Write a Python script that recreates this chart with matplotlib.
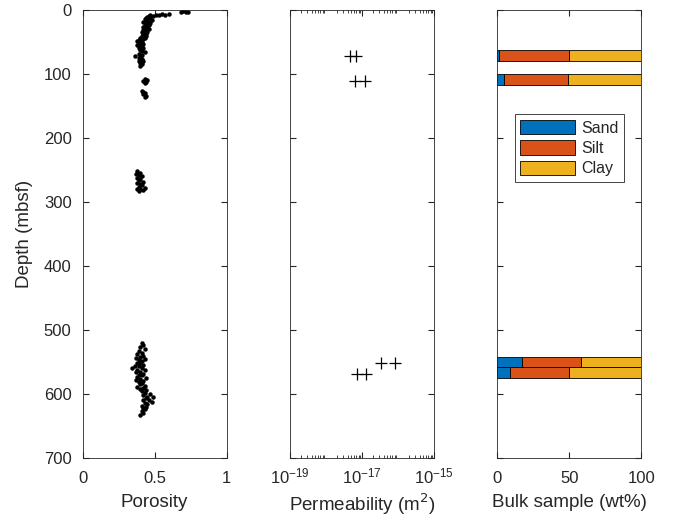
import matplotlib.pyplot as plt
from matplotlib.ticker import LogLocator, NullFormatter

plt.rcParams['font.family'] = ['Liberation Sans', 'DejaVu Sans']
plt.rcParams['font.size'] = 12

# porosity profile (depth in mbsf, porosity fraction)
por_depth = [2, 2.5, 3, 3.5, 6, 6.5, 7, 7, 8, 8, 9, 10, 11, 12, 13, 14, 15, 16, 17, 18,
             19, 20, 21, 22, 23, 24, 25, 26, 27, 28, 29, 30, 31, 32, 33, 34, 35, 36, 37, 38,
             39, 40, 41, 42, 43, 44, 45, 46, 47, 48, 49, 50, 51, 52, 53, 54, 55, 56, 57, 58,
             59, 60, 62, 64, 66, 68, 70, 72, 73, 75, 76, 78, 79, 80, 81, 83, 85, 87,
             108, 110, 111, 112, 114, 126, 128, 130, 132, 134, 136,
             252, 254, 256, 258, 260, 262, 264, 266, 268, 270, 272, 274, 276, 278, 279, 280, 282, 283,
             520, 523, 526, 530, 533, 536, 538, 540, 542, 544, 545, 547, 549, 551, 552, 554, 556, 557,
             559, 560, 562, 563, 565, 566, 568, 570, 571, 573, 575, 576, 578, 580, 581, 583, 585, 587,
             589, 590, 592, 594, 596, 598, 600, 602, 604, 605, 607, 609, 610, 612, 614, 616, 618, 620,
             622, 624, 627, 630, 633]
porosity = [0.70, 0.73, 0.72, 0.68, 0.60, 0.55, 0.57, 0.53, 0.51, 0.47, 0.49, 0.46, 0.45, 0.44, 0.47, 0.43, 0.45, 0.48, 0.44, 0.46,
            0.42, 0.47, 0.44, 0.45, 0.43, 0.46, 0.44, 0.42, 0.45, 0.43, 0.44, 0.46, 0.42, 0.44, 0.43, 0.45, 0.41, 0.43, 0.44, 0.42,
            0.43, 0.41, 0.44, 0.42, 0.40, 0.43, 0.41, 0.42, 0.39, 0.40, 0.38, 0.41, 0.39, 0.40, 0.42, 0.38, 0.40, 0.39, 0.41, 0.40,
            0.42, 0.39, 0.40, 0.41, 0.43, 0.39, 0.41, 0.36, 0.40, 0.39, 0.41, 0.40, 0.42, 0.39, 0.41, 0.40, 0.41, 0.40,
            0.43, 0.45, 0.42, 0.44, 0.43, 0.41, 0.42, 0.43, 0.42, 0.44, 0.43,
            0.38, 0.40, 0.37, 0.39, 0.41, 0.38, 0.40, 0.39, 0.42, 0.38, 0.40, 0.41, 0.39, 0.43, 0.38, 0.40, 0.42, 0.39,
            0.41, 0.42, 0.40, 0.43, 0.39, 0.41, 0.38, 0.42, 0.40, 0.37, 0.43, 0.39, 0.41, 0.38, 0.40, 0.42, 0.36, 0.39,
            0.34, 0.41, 0.38, 0.43, 0.40, 0.37, 0.42, 0.39, 0.41, 0.38, 0.44, 0.40, 0.37, 0.42, 0.39, 0.41, 0.40, 0.43,
            0.38, 0.42, 0.40, 0.44, 0.41, 0.43, 0.47, 0.42, 0.45, 0.49, 0.44, 0.46, 0.42, 0.48, 0.43, 0.45, 0.41, 0.44,
            0.42, 0.43, 0.41, 0.42, 0.40]

# permeability (m^2)
perm_depth = [72, 72, 111, 111, 552, 552, 568, 568]
perm = [4.6e-18, 6.8e-18, 6.5e-18, 1.2e-17, 3.3e-17, 8.1e-17, 7.1e-18, 1.26e-17]

# bulk grain size (wt%)
bulk_depth = [71, 109, 550, 566]
sand = [1.4, 4.6, 17, 9]
silt = [48.1, 44.2, 41.5, 40.5]
clay = [50.5, 51.2, 41.5, 50.5]

col_sand = '#0072BD'
col_silt = '#D95319'
col_clay = '#EDB120'
axcol = '#262626'
lab_fs = 13.5

fig = plt.figure(figsize=(6.74, 5.22), dpi=100)
W = 0.2136
B = 0.1226
H = 0.8582
ax1 = fig.add_axes([0.1227, B, W, H])
ax2 = fig.add_axes([0.4303, B, W, H])
ax3 = fig.add_axes([0.7378, B, W, H])

for ax in (ax1, ax2, ax3):
    ax.set_ylim(700, 0)
    ax.set_yticks(range(0, 701, 100))
    ax.tick_params(which='both', direction='in', top=True, right=True, colors=axcol,
                   labelcolor=axcol, labelsize=12)
    ax.tick_params(which='major', length=4.5)
    ax.tick_params(which='minor', length=2)
    ax.tick_params(axis='x', which='both', pad=9)
    ax.tick_params(axis='y', which='both', pad=8)
    for s in ax.spines.values():
        s.set_color(axcol)
        s.set_linewidth(0.6)

ax1.plot(porosity, por_depth, 'o', color='black', markersize=2.2)
ax1.set_xlim(0, 1)
ax1.set_xticks([0, 0.5, 1])
ax1.set_xticklabels(['0', '0.5', '1'])
ax1.set_xlabel('Porosity', color=axcol, fontsize=lab_fs, labelpad=6)
ax1.set_ylabel('Depth (mbsf)', color=axcol, fontsize=lab_fs, labelpad=8)

ax2.plot(perm, perm_depth, '+', color='black', markersize=8, markeredgewidth=0.9)
ax2.set_xscale('log')
ax2.set_xlim(1e-19, 1e-15)
ax2.set_xticks([1e-19, 1e-17, 1e-15])
ax2.xaxis.set_minor_locator(LogLocator(base=10, subs=range(2, 10), numticks=20))
ax2.xaxis.set_minor_formatter(NullFormatter())
ax2.tick_params(axis='x', which='both', pad=6)
ax2.set_yticklabels([])
ax2.set_xlabel('Permeability (m$^2$)', color=axcol, fontsize=lab_fs, labelpad=4)

h = 16.5
left2 = [a + b for a, b in zip(sand, silt)]
ax3.barh(bulk_depth, sand, height=h, color=col_sand, edgecolor='black', linewidth=0.6, label='Sand')
ax3.barh(bulk_depth, silt, left=sand, height=h, color=col_silt, edgecolor='black', linewidth=0.6, label='Silt')
ax3.barh(bulk_depth, clay, left=left2, height=h, color=col_clay, edgecolor='black', linewidth=0.6, label='Clay')
ax3.set_xlim(0, 100)
ax3.set_xticks([0, 50, 100])
ax3.set_yticklabels([])
ax3.set_xlabel('Bulk sample (wt%)', color=axcol, fontsize=lab_fs, labelpad=6)
leg = ax3.legend(loc='upper center', bbox_to_anchor=(0.5, 0.785), fancybox=False,
                 edgecolor=axcol, framealpha=1, fontsize=11.5, handlelength=3.4,
                 handleheight=1.0, labelspacing=0.3, borderpad=0.35, handletextpad=0.4)
leg.get_frame().set_linewidth(0.6)
for t in leg.get_texts():
    t.set_color(axcol)

fig.savefig('out.png', dpi=100)
